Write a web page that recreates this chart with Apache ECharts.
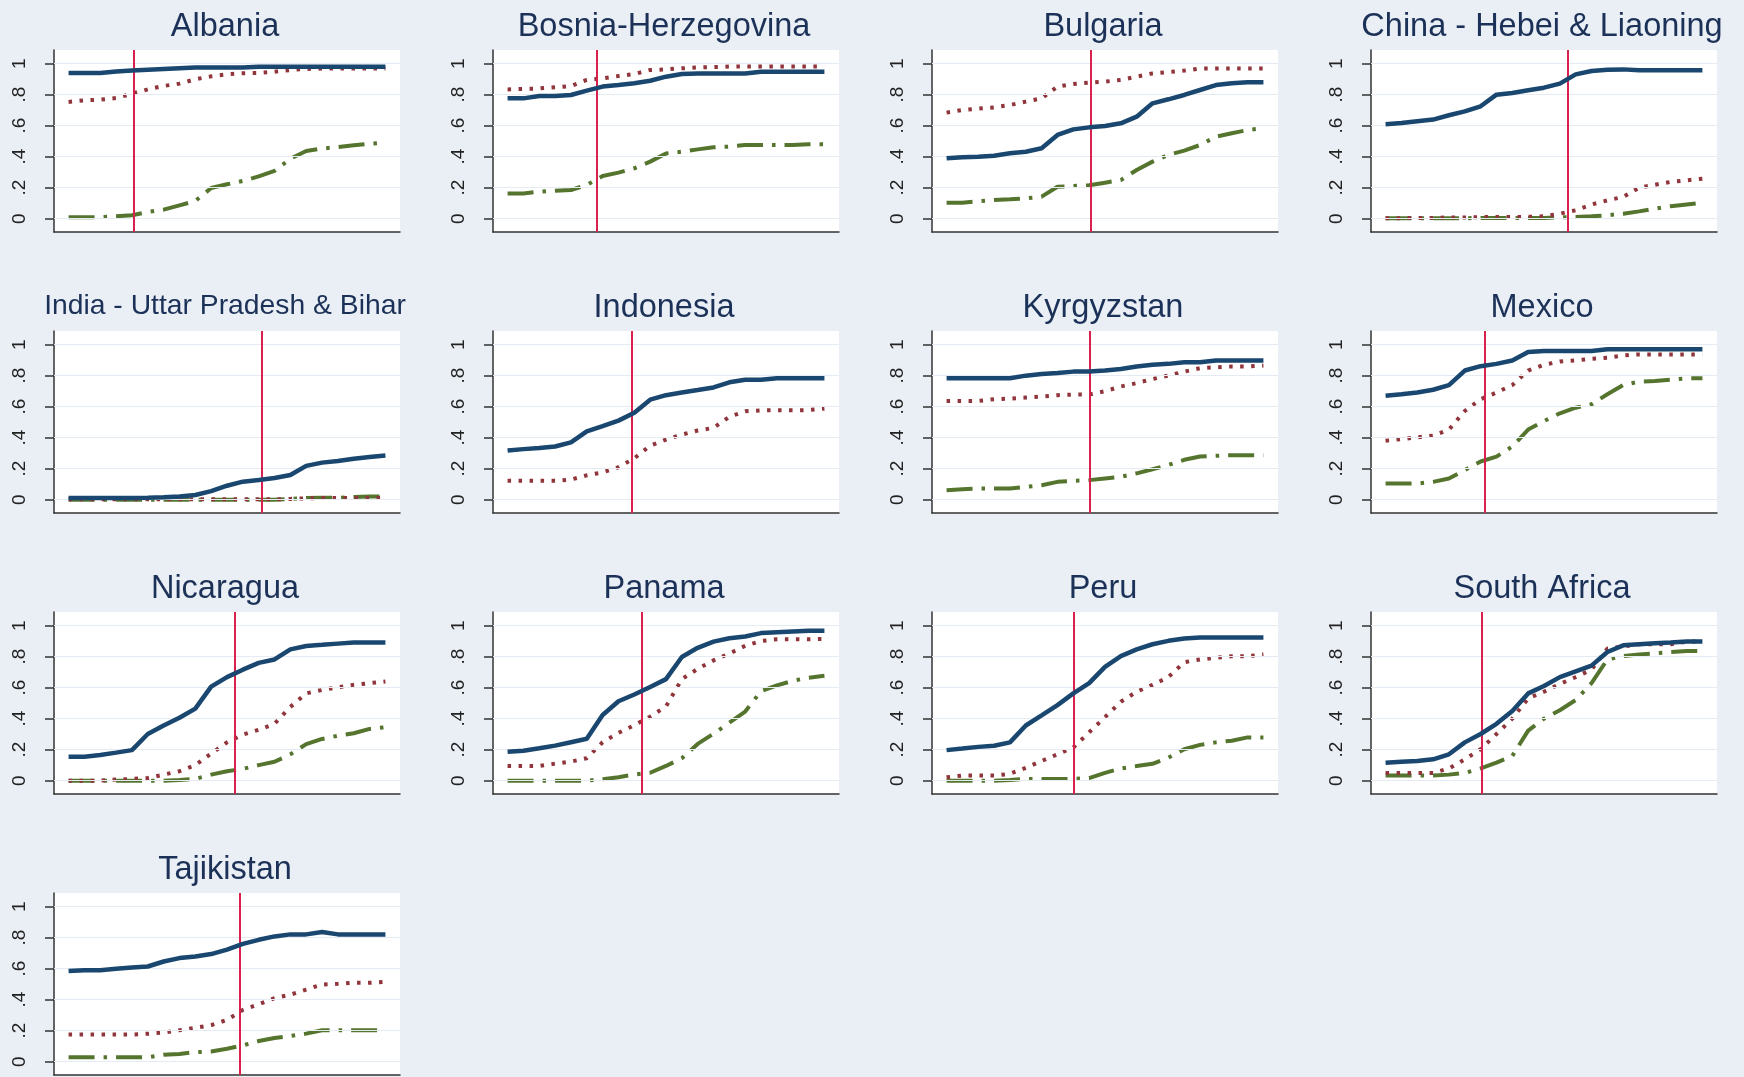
<!DOCTYPE html>
<html>
<head>
<meta charset="utf-8">
<title>Country panels</title>
<script src="https://cdn.jsdelivr.net/npm/echarts@6/dist/echarts.min.js"></script>
<style>
  html, body { margin: 0; padding: 0; background: #eaeff6; }
  #main { width: 1744px; height: 1077px; }
</style>
</head>
<body>
<div id="main"></div>
<script>
// x positions (percent of the sample), shared by every panel
const pct = [0,5,10,15,20,25,30,35,40,45,50,55,60,65,70,75,80,85,90,95,100]
const yTicks = [0, 0.2, 0.4, 0.6, 0.8, 1]

const countries = ['Albania','Bosnia-Herzegovina','Bulgaria','China - Hebei & Liaoning',
  'India - Uttar Pradesh & Bihar','Indonesia','Kyrgyzstan','Mexico',
  'Nicaragua','Panama','Peru','South Africa','Tajikistan']
// where the red vertical line sits in each panel
const cutoff = [20.7, 28.2, 45.5, 57.5, 61.1, 39.3, 45.1, 31.2, 52.4, 42.2, 40.1, 30.2, 54.0]

// solid navy series
const albaniaA = [0.94,0.94,0.94,0.95,0.955,0.96,0.965,0.97,0.975,0.975,0.975,0.975,0.98,0.98,0.98,0.98,0.98,0.98,0.98,0.98,0.98]
const bosniaA = [0.776,0.776,0.791,0.791,0.798,0.826,0.852,0.862,0.873,0.89,0.916,0.933,0.937,0.937,0.937,0.937,0.948,0.948,0.948,0.948,0.948]
const bulgariaA = [0.389,0.396,0.4,0.406,0.422,0.432,0.454,0.54,0.576,0.589,0.598,0.615,0.658,0.744,0.77,0.798,0.83,0.862,0.873,0.88,0.88]
const chinaA = [0.609,0.617,0.628,0.639,0.667,0.692,0.725,0.8,0.811,0.828,0.845,0.871,0.931,0.953,0.961,0.963,0.957,0.957,0.957,0.957,0.957]
const indiaA = [0.01,0.01,0.01,0.01,0.01,0.012,0.015,0.02,0.03,0.055,0.09,0.116,0.127,0.14,0.159,0.218,0.239,0.249,0.264,0.275,0.285]
const indonesiaA = [0.317,0.326,0.333,0.343,0.37,0.441,0.474,0.51,0.56,0.645,0.674,0.691,0.707,0.724,0.757,0.774,0.774,0.783,0.783,0.783,0.783]
const kyrgyzstanA = [0.783,0.783,0.783,0.783,0.783,0.8,0.811,0.817,0.826,0.826,0.833,0.843,0.859,0.87,0.876,0.887,0.887,0.898,0.898,0.898,0.898]
const mexicoA = [0.67,0.68,0.691,0.709,0.739,0.833,0.861,0.876,0.898,0.952,0.959,0.959,0.959,0.959,0.97,0.97,0.97,0.97,0.97,0.97,0.97]
const nicaraguaA = [0.155,0.155,0.166,0.181,0.197,0.301,0.356,0.406,0.465,0.607,0.668,0.716,0.76,0.782,0.847,0.869,0.876,0.884,0.891,0.891,0.891]
const panamaA = [0.187,0.193,0.209,0.226,0.248,0.27,0.424,0.512,0.556,0.604,0.655,0.798,0.857,0.897,0.919,0.93,0.952,0.958,0.963,0.967,0.967]
const peruA = [0.197,0.207,0.218,0.225,0.247,0.356,0.421,0.487,0.563,0.629,0.734,0.803,0.847,0.88,0.902,0.917,0.924,0.924,0.924,0.924,0.924]
const southAfricaA = [0.116,0.122,0.127,0.138,0.17,0.247,0.301,0.367,0.45,0.563,0.611,0.668,0.705,0.742,0.83,0.873,0.88,0.886,0.891,0.897,0.897]
const tajikistanA = [0.585,0.59,0.59,0.6,0.607,0.614,0.646,0.668,0.679,0.694,0.723,0.76,0.786,0.808,0.821,0.821,0.836,0.821,0.821,0.821,0.821]

// dotted maroon series
const albaniaB = [0.753,0.763,0.768,0.778,0.806,0.834,0.856,0.871,0.899,0.918,0.931,0.938,0.94,0.948,0.959,0.966,0.968,0.968,0.968,0.968,0.968]
const bosniaB = [0.834,0.837,0.84,0.847,0.856,0.895,0.905,0.92,0.933,0.959,0.963,0.97,0.975,0.978,0.981,0.981,0.981,0.981,0.981,0.981,0.981]
const bulgariaB = [0.684,0.701,0.71,0.718,0.733,0.755,0.776,0.852,0.869,0.877,0.884,0.895,0.916,0.937,0.946,0.955,0.968,0.968,0.968,0.968,0.968]
const chinaB = [0.003,0.003,0.005,0.005,0.008,0.008,0.01,0.01,0.01,0.012,0.015,0.032,0.054,0.092,0.118,0.14,0.2,0.219,0.237,0.247,0.258]
const indiaB = [0.002,0.002,0.002,0.002,0.002,0.002,0.002,0.002,0.002,0.002,0.002,0.002,0.002,0.002,0.005,0.008,0.01,0.01,0.01,0.01,0.01]
const indonesiaB = [0.122,0.122,0.122,0.122,0.13,0.157,0.176,0.209,0.267,0.348,0.387,0.42,0.446,0.463,0.535,0.57,0.576,0.576,0.576,0.578,0.587]
const kyrgyzstanB = [0.637,0.637,0.637,0.648,0.652,0.659,0.665,0.674,0.678,0.678,0.7,0.73,0.752,0.778,0.8,0.826,0.848,0.854,0.859,0.859,0.865]
const mexicoB = [0.38,0.391,0.402,0.413,0.452,0.572,0.648,0.691,0.739,0.833,0.87,0.891,0.898,0.909,0.915,0.93,0.937,0.937,0.937,0.937,0.937]
const nicaraguaB = [0,0,0,0.007,0.011,0.017,0.039,0.061,0.1,0.175,0.247,0.297,0.328,0.367,0.476,0.563,0.585,0.603,0.618,0.629,0.64]
const panamaB = [0.095,0.095,0.095,0.11,0.123,0.145,0.248,0.308,0.358,0.413,0.479,0.655,0.721,0.776,0.82,0.87,0.901,0.912,0.912,0.912,0.914]
const peruB = [0.022,0.033,0.033,0.033,0.044,0.083,0.127,0.17,0.214,0.312,0.41,0.509,0.574,0.618,0.668,0.764,0.782,0.793,0.803,0.803,0.814]
const southAfricaB = [0.05,0.05,0.05,0.05,0.079,0.138,0.203,0.301,0.4,0.531,0.574,0.624,0.668,0.716,0.852,0.865,0.88,0.88,0.88,0.897,0.897]
const tajikistanB = [0.175,0.175,0.175,0.175,0.175,0.18,0.188,0.203,0.218,0.236,0.269,0.334,0.371,0.41,0.432,0.465,0.498,0.502,0.509,0.509,0.515]

// dash-dot green series (Indonesia has none)
const albaniaC = [0.009,0.009,0.01,0.015,0.022,0.043,0.058,0.086,0.114,0.198,0.222,0.243,0.273,0.308,0.387,0.437,0.452,0.462,0.473,0.484,0.49]
const bosniaC = [0.163,0.163,0.174,0.18,0.185,0.217,0.275,0.297,0.325,0.368,0.421,0.432,0.447,0.46,0.465,0.475,0.475,0.475,0.475,0.48,0.48]
const bulgariaC = [0.103,0.103,0.112,0.12,0.125,0.131,0.142,0.206,0.211,0.215,0.232,0.249,0.314,0.368,0.411,0.439,0.475,0.529,0.551,0.572,0.583]
const chinaC = [0.002,0.002,0.002,0.002,0.003,0.003,0.005,0.005,0.005,0.005,0.005,0.008,0.011,0.015,0.022,0.032,0.047,0.065,0.08,0.092,0.103]
const indiaC = [0,0,0,0,0,0,0,0,0,0,0,0,0,0,0.005,0.01,0.012,0.012,0.017,0.02,0.02]
const kyrgyzstanC = [0.061,0.067,0.072,0.072,0.072,0.083,0.093,0.115,0.122,0.126,0.137,0.148,0.17,0.196,0.224,0.257,0.278,0.283,0.287,0.287,0.287]
const mexicoC = [0.104,0.104,0.104,0.115,0.137,0.191,0.246,0.278,0.343,0.452,0.507,0.557,0.593,0.615,0.68,0.739,0.761,0.765,0.774,0.783,0.783]
const nicaraguaC = [0,0,0,0,0,0,0,0.004,0.011,0.039,0.061,0.076,0.1,0.122,0.17,0.236,0.269,0.29,0.306,0.334,0.345]
const panamaC = [0,0,0,0,0,0,0.009,0.022,0.04,0.051,0.095,0.145,0.237,0.303,0.374,0.446,0.578,0.615,0.644,0.664,0.677]
const peruC = [0,0,0,0,0.004,0.011,0.011,0.011,0.011,0.017,0.05,0.079,0.094,0.109,0.148,0.203,0.231,0.247,0.258,0.279,0.279]
const southAfricaC = [0.033,0.033,0.033,0.033,0.039,0.05,0.079,0.116,0.159,0.323,0.4,0.454,0.52,0.629,0.782,0.803,0.814,0.821,0.83,0.836,0.836]
const tajikistanC = [0.028,0.028,0.028,0.028,0.028,0.028,0.044,0.05,0.061,0.066,0.083,0.105,0.133,0.153,0.166,0.181,0.203,0.203,0.203,0.203,0.203]

const navyData = [albaniaA,bosniaA,bulgariaA,chinaA,indiaA,indonesiaA,kyrgyzstanA,mexicoA,nicaraguaA,panamaA,peruA,southAfricaA,tajikistanA]
const maroonData = [albaniaB,bosniaB,bulgariaB,chinaB,indiaB,indonesiaB,kyrgyzstanB,mexicoB,nicaraguaB,panamaB,peruB,southAfricaB,tajikistanB]
const greenData = [albaniaC,bosniaC,bulgariaC,chinaC,indiaC,null,kyrgyzstanC,mexicoC,nicaraguaC,panamaC,peruC,southAfricaC,tajikistanC]

const font = "'Liberation Sans', Arial, sans-serif"
const colLeft = [54, 493, 932, 1371]
const rowTop = [50, 331, 612, 893]
const plotW = 346, plotH = 182

function pairs(vals) {
  return pct.map((x, k) => [x, vals[k]])
}
function tickFmt(v) {
  if (v === 0) return '0'
  if (v === 1) return '1'
  return '.' + Math.round(v * 10)
}

let grids = [], xAxes = [], yAxes = [], series = [], titles = []
countries.forEach((name, i) => {
  let col = i % 4, row = Math.floor(i / 4)
  let left = colLeft[col], top = rowTop[row]
  grids.push({left: left, top: top, width: plotW, height: plotH, show: true, backgroundColor: '#ffffff', borderWidth: 0})
  let small = name.length > 26
  titles.push({
    text: name, left: left + plotW / 2 - 2, top: top - 39, textAlign: 'center', padding: 0,
    textStyle: {fontFamily: font, fontWeight: 'normal', fontSize: small ? 28.3 : 32.5, color: '#1c3157'}
  })
  xAxes.push({
    gridIndex: i, type: 'value', min: -4.6, max: 104.6,
    axisLine: {show: true, onZero: false, lineStyle: {color: '#333', width: 1.5}},
    axisTick: {show: false}, axisLabel: {show: false}, splitLine: {show: false}
  })
  yAxes.push({
    gridIndex: i, type: 'value', min: -0.086, max: 1.088,
    axisLine: {show: true, onZero: false, lineStyle: {color: '#333', width: 1.5}},
    axisTick: {show: true, length: 9, customValues: yTicks, lineStyle: {color: '#333', width: 1.5}},
    axisLabel: {show: true, rotate: 90, margin: 25, customValues: yTicks, formatter: tickFmt,
      fontFamily: font, fontSize: 19, color: '#222'},
    splitLine: {show: false}
  })
  // gridlines + red reference line, drawn under the data
  series.push({
    type: 'line', xAxisIndex: i, yAxisIndex: i, data: pairs(navyData[i]), silent: true,
    showSymbol: false, lineStyle: {opacity: 0}, z: 1,
    markLine: {
      silent: true, symbol: 'none', label: {show: false}, animation: false,
      data: yTicks.map(v => ({yAxis: v, lineStyle: {color: '#e4ebf2', width: 1.2, type: 'solid'}}))
        .concat([{xAxis: cutoff[i], lineStyle: {color: '#d9214e', width: 2, type: 'solid'}}])
    }
  })
  series.push({
    type: 'line', xAxisIndex: i, yAxisIndex: i, data: pairs(navyData[i]), z: 5,
    showSymbol: false, silent: true, lineStyle: {color: '#1a476f', width: 4.5}
  })
  series.push({
    type: 'line', xAxisIndex: i, yAxisIndex: i, data: pairs(maroonData[i]), z: 4,
    showSymbol: false, silent: true, lineStyle: {color: '#90353b', width: 4, type: [3.5, 7.5]}
  })
  if (greenData[i]) {
    series.push({
      type: 'line', xAxisIndex: i, yAxisIndex: i, data: pairs(greenData[i]), z: 3,
      showSymbol: false, silent: true, lineStyle: {color: '#55752f', width: 4, type: [26, 9, 3.5, 9]}
    })
  }
})

const chart = echarts.init(document.getElementById('main'))
chart.setOption({
  backgroundColor: '#eaeff6',
  animation: false,
  title: titles,
  grid: grids,
  xAxis: xAxes,
  yAxis: yAxes,
  series: series
})
</script>
</body>
</html>
